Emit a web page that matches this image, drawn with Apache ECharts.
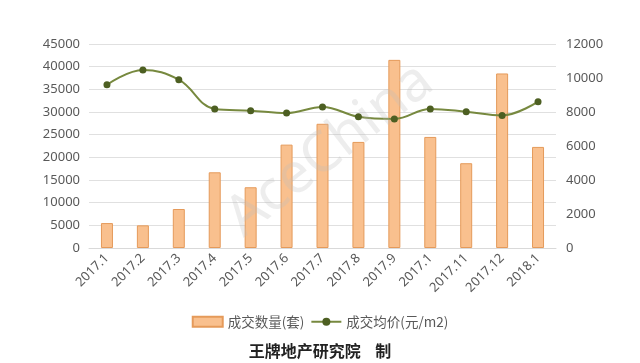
<!DOCTYPE html>
<html>
<head>
<meta charset="utf-8">
<script src="https://cdn.jsdelivr.net/npm/echarts@6/dist/echarts.min.js"></script>
<style>html,body{margin:0;padding:0;background:#fff;}#c{width:640px;height:363px;}</style>
</head>
<body>
<div id="c"></div>
<script>
var categories = ['2017.1','2017.2','2017.3','2017.4','2017.5','2017.6','2017.7','2017.8','2017.9','2017.1','2017.11','2017.12','2018.1'];
var volume = [5500, 5000, 8600, 16700, 13400, 22800, 27400, 23400, 41500, 24500, 18700, 38500, 22300];
var avgPrice = [9600, 10470, 9900, 8180, 8080, 7940, 8300, 7720, 7590, 8180, 8020, 7800, 8610];
var leftTicks = [0, 45000, 5000];
var rightTicks = [0, 12000, 2000];

var chart = echarts.init(document.getElementById('c'));
var font = "'Noto Sans', 'Noto Sans CJK SC', sans-serif";
chart.setOption({
  animation: false,
  textStyle: {fontFamily: font},
  grid: {left: 89, right: 84, top: 44, bottom: 115},
  graphic: [
    {type: 'text', left: 'center', top: 343, style: {text: '王牌地产研究院    制', font: "bold 16px 'Noto Sans CJK SC', sans-serif", fill: '#222'}},
    {type: 'text', x: 330, y: 150, rotation: Math.PI * 38 / 180, style: {text: 'AceChina', font: "56px 'Noto Sans', sans-serif", fill: 'rgba(190,190,190,0.28)', align: 'center', verticalAlign: 'middle'}, z: 100}
  ],
  legend: {
    top: 310, left: 'center',
    itemWidth: 30, itemHeight: 10, itemGap: 6,
    textStyle: {fontSize: 13.5, color: '#595959', fontFamily: "'Noto Sans CJK SC', sans-serif"},
    data: [{name: '成交数量(套)', icon: 'rect'}, '成交均价(元/m2)']
  },
  xAxis: {
    type: 'category', data: categories,
    axisLine: {lineStyle: {color: '#d9d9d9'}},
    axisTick: {show: false},
    axisLabel: {rotate: 45, color: '#595959', fontSize: 13, margin: 8, interval: 0}
  },
  yAxis: [
    {type: 'value', min: leftTicks[0], max: leftTicks[1], interval: leftTicks[2],
     axisLine: {show: false}, axisTick: {show: false},
     axisLabel: {color: '#595959', fontSize: 13, margin: 9, formatter: function (v) { return String(v); }},
     splitLine: {lineStyle: {color: '#e0e0e0'}}},
    {type: 'value', min: rightTicks[0], max: rightTicks[1], interval: rightTicks[2],
     axisLine: {show: false}, axisTick: {show: false},
     axisLabel: {color: '#595959', fontSize: 13, margin: 10, formatter: function (v) { return String(v); }},
     splitLine: {show: false}}
  ],
  series: [
    {name: '成交数量(套)', type: 'bar', data: volume, barWidth: 12, yAxisIndex: 0,
     itemStyle: {color: '#f9c08e', borderColor: '#e59a5a', borderWidth: 1}},
    {name: '成交均价(元/m2)', type: 'line', data: avgPrice, yAxisIndex: 1, smooth: 0.4,
     symbol: 'circle', symbolSize: 7,
     lineStyle: {color: '#77893f', width: 2},
     itemStyle: {color: '#4d5f22'}}
  ]
});
</script>
</body>
</html>
